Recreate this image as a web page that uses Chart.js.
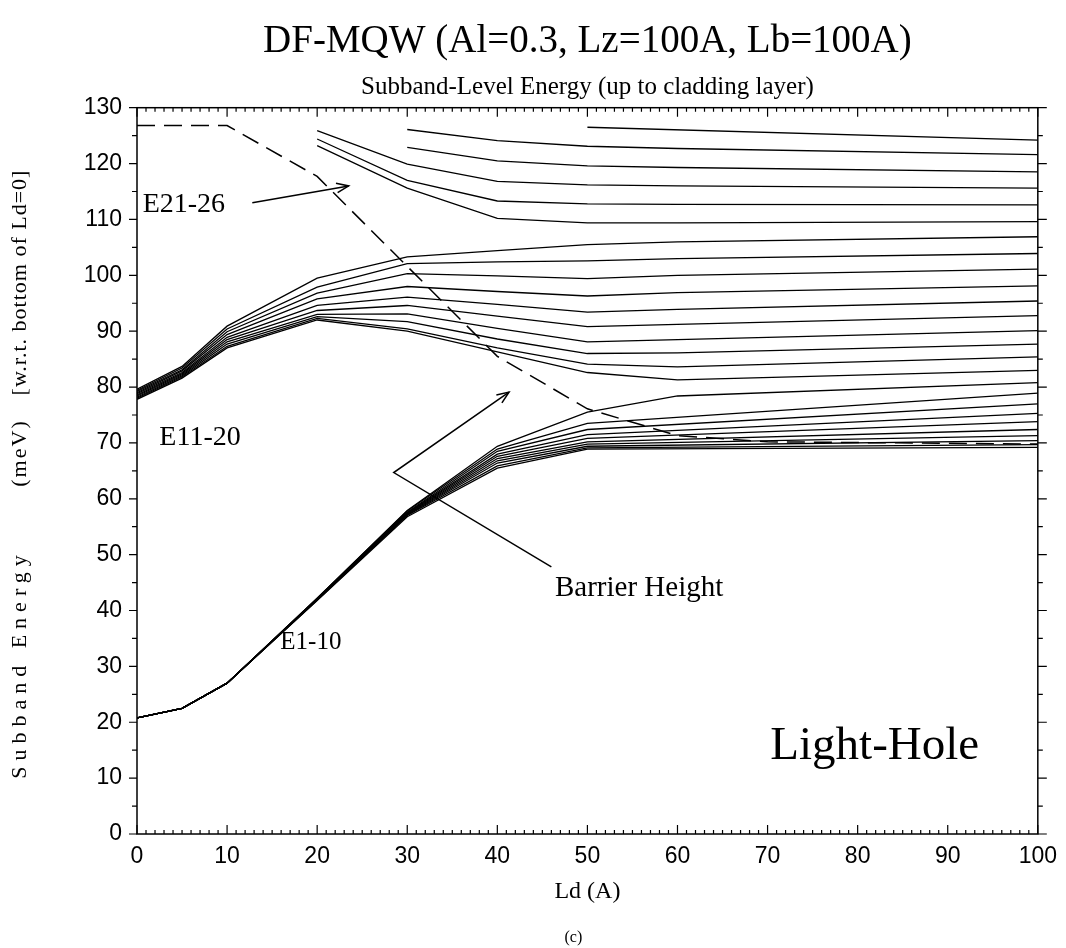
<!DOCTYPE html>
<html><head><meta charset="utf-8">
<script src="https://cdn.jsdelivr.net/npm/chart.js@4.4.1/dist/chart.umd.min.js"></script>
<style>html,body{margin:0;padding:0;background:#fff;}#wrap{position:relative;width:1066px;height:948px;}canvas{display:block;}</style>
</head><body><div id="wrap"><canvas id="c" width="1066" height="948"></canvas></div>
<script>
// ---- data (Ld in Angstrom, energy in meV) ----
const ldLow  = [0, 5, 10, 20, 30, 40, 50, 100];          // E1..E9
const ldE10  = [0, 5, 10, 20, 30, 40, 50, 60, 100];      // E10
const ldMid  = [0, 5, 10, 20, 30, 40, 50, 60, 100];      // E11..E20
const ldHiA  = [20, 30, 40, 50, 60, 100];                // E21..E23
const ldHiB  = [30, 40, 50, 60, 100];                    // E24..E25
const ldHiC  = [50, 100];                                // E26

const E1  = [20.8, 22.5, 27.0, 41.8, 56.8, 65.5, 68.9, 69.2];
const E2  = [20.8, 22.5, 27.0, 41.9, 57.0, 65.9, 69.1, 69.7];
const E3  = [20.8, 22.5, 27.0, 41.9, 57.1, 66.4, 69.4, 70.4];
const E4  = [20.8, 22.5, 27.0, 42.0, 57.2, 66.8, 69.8, 71.3];
const E5  = [20.8, 22.5, 27.0, 42.0, 57.3, 67.2, 70.2, 72.4];
const E6  = [20.8, 22.5, 27.0, 42.0, 57.4, 67.6, 70.8, 73.8];
const E7  = [20.8, 22.5, 27.0, 42.1, 57.5, 68.0, 71.5, 75.3];
const E8  = [20.8, 22.5, 27.0, 42.1, 57.6, 68.5, 72.4, 77.0];
const E9  = [20.8, 22.5, 27.0, 42.2, 57.8, 68.9, 73.5, 78.9];
const E10 = [20.8, 22.5, 27.0, 42.2, 57.9, 69.4, 75.5, 78.4, 80.8];

const E11 = [77.8, 81.6, 87.0, 92.0, 90.0, 86.3, 82.6, 81.3, 83.0];
const E12 = [78.0, 81.8, 87.3, 92.3, 90.4, 87.0, 84.1, 83.6, 85.4];
const E13 = [78.2, 82.0, 87.7, 92.6, 91.7, 88.6, 86.0, 86.1, 87.7];
const E14 = [78.4, 82.2, 88.1, 93.0, 93.1, 90.5, 88.1, 88.5, 90.1];
const E15 = [78.6, 82.4, 88.5, 93.7, 94.6, 92.7, 90.8, 91.2, 92.8];
const E16 = [78.8, 82.6, 88.9, 94.6, 96.1, 94.8, 93.4, 93.9, 95.4];
const E17 = [79.0, 82.9, 89.4, 95.8, 98.0, 97.1, 96.3, 96.9, 98.1];
const E18 = [79.2, 83.1, 89.9, 96.8, 100.3, 99.9, 99.4, 100.0, 101.1];
const E19 = [79.4, 83.4, 90.4, 97.9, 102.1, 102.4, 102.6, 103.0, 103.9];
const E20 = [79.6, 83.7, 90.9, 99.5, 103.3, 104.4, 105.5, 106.0, 106.9];

const E21 = [123.2, 115.6, 110.2, 109.4, 109.4, 109.6];
const E22 = [124.4, 117.0, 113.3, 112.8, 112.7, 112.6];
const E23 = [125.9, 119.9, 116.8, 116.2, 116.0, 115.6];
const E24 = [122.9, 120.5, 119.6, 119.3, 118.5];
const E25 = [126.1, 124.1, 123.1, 122.7, 121.6];
const E26 = [126.5, 124.2];

const barrierLd = [0, 10, 20, 40, 50, 60, 70, 100];
const barrierE  = [126.8, 126.8, 117.7, 85.5, 76.1, 71.3, 70.2, 69.8];

const xTickValues = [0, 10, 20, 30, 40, 50, 60, 70, 80, 90, 100];
const yTickValues = [0, 10, 20, 30, 40, 50, 60, 70, 80, 90, 100, 110, 120, 130];

// ---- build datasets ----
const levels = [
  [ldLow, E1], [ldLow, E2], [ldLow, E3], [ldLow, E4], [ldLow, E5],
  [ldLow, E6], [ldLow, E7], [ldLow, E8], [ldLow, E9], [ldE10, E10],
  [ldMid, E11], [ldMid, E12], [ldMid, E13], [ldMid, E14], [ldMid, E15],
  [ldMid, E16], [ldMid, E17], [ldMid, E18], [ldMid, E19], [ldMid, E20],
  [ldHiA, E21], [ldHiA, E22], [ldHiA, E23], [ldHiB, E24], [ldHiB, E25], [ldHiC, E26]
];
const toPts = (xs, ys) => xs.map((x, i) => ({x: x, y: ys[i]}));
const datasets = levels.map((l, i) => ({
  label: 'E' + (i + 1),
  data: toPts(l[0], l[1]),
  borderColor: '#000', borderWidth: 1.3, pointRadius: 0, tension: 0, fill: false
}));
datasets.push({
  label: 'Barrier Height', data: toPts(barrierLd, barrierE),
  borderColor: '#000', borderWidth: 1.5, borderDash: [18, 9], pointRadius: 0, tension: 0, fill: false
});

const SERIF = "'Liberation Serif', 'Times New Roman', serif";
const SANS = "'Liberation Sans', Arial, sans-serif";

// ---- annotation layout (data coordinates) ----
const notes = [
  {text: 'E21-26', x: 5.2, y: 112.6, size: 28, align: 'center'},
  {text: 'E11-20', x: 7.0, y: 71.0, size: 28, align: 'center'},
  {text: 'E1-10', x: 19.3, y: 34.2, size: 25, align: 'center'},
  {text: 'Barrier Height', x: 46.4, y: 44.0, size: 29, align: 'left'},
  {text: 'Light-Hole', x: 81.9, y: 15.6, size: 47, align: 'center'}
];
const arrows = [
  [[12.8, 113.0], [23.5, 116.0]],
  [[46.0, 47.8], [28.5, 64.7], [41.3, 79.1]]
];
const yTitleParts = [
  {text: 'Subband Energy', at: 667, spacing: 6},
  {text: '(meV)', at: 454, spacing: 2},
  {text: '[w.r.t. bottom of Ld=0]', at: 283, spacing: 1}
];

const frameTicks = {
  id: 'frameTicks',
  afterDraw(chart) {
    const {ctx, chartArea: a, scales: {x, y}} = chart;
    ctx.save();
    ctx.strokeStyle = '#000';
    ctx.lineWidth = 1.5;
    ctx.strokeRect(a.left, a.top, a.right - a.left, a.bottom - a.top);
    ctx.lineWidth = 1.2;
    ctx.beginPath();
    for (let v = 0; v <= 100; v++) {
      const px = x.getPixelForValue(v);
      const len = v % 10 === 0 ? 9 : 4;
      ctx.moveTo(px, a.bottom); ctx.lineTo(px, a.bottom - len);
      ctx.moveTo(px, a.top); ctx.lineTo(px, a.top + len);
    }
    for (let v = 0; v <= 130; v += 5) {
      const py = y.getPixelForValue(v);
      const major = v % 10 === 0;
      ctx.moveTo(a.left, py); ctx.lineTo(a.left - (major ? 8 : 5), py);
      ctx.moveTo(a.right, py); ctx.lineTo(a.right + (major ? 9 : 5), py);
    }
    ctx.stroke();
    ctx.restore();

    // y-axis title (rotated, letter-spaced pieces)
    yTitleParts.forEach(p => {
      ctx.save();
      ctx.fillStyle = '#000';
      ctx.font = '22px ' + SERIF;
      ctx.textAlign = 'center';
      ctx.textBaseline = 'middle';
      ctx.translate(20, p.at);
      ctx.rotate(-Math.PI / 2);
      ctx.letterSpacing = p.spacing + 'px';
      ctx.fillText(p.text, p.spacing / 2, 0);
      ctx.restore();
    });

    ctx.save();
    ctx.fillStyle = '#000';
    ctx.font = '16px ' + SERIF;
    ctx.textAlign = 'center';
    ctx.textBaseline = 'middle';
    ctx.fillText('(c)', (a.left + a.right) / 2 - 14, 938);
    ctx.restore();
  }
};

const notesPlugin = {
  id: 'notes',
  afterDatasetsDraw(chart) {
    const {ctx, scales: {x, y}} = chart;
    ctx.save();
    ctx.fillStyle = '#000';
    ctx.textBaseline = 'middle';
    notes.forEach(n => {
      ctx.font = n.size + 'px ' + SERIF;
      ctx.textAlign = n.align;
      ctx.fillText(n.text, x.getPixelForValue(n.x), y.getPixelForValue(n.y));
    });
    ctx.strokeStyle = '#000';
    ctx.lineWidth = 1.5;
    arrows.forEach(pts => {
      const p = pts.map(q => [x.getPixelForValue(q[0]), y.getPixelForValue(q[1])]);
      ctx.beginPath();
      ctx.moveTo(p[0][0], p[0][1]);
      for (let i = 1; i < p.length; i++) ctx.lineTo(p[i][0], p[i][1]);
      ctx.stroke();
      const [x1, y1] = p[p.length - 2], [x2, y2] = p[p.length - 1];
      const ang = Math.atan2(y2 - y1, x2 - x1), L = 13, w = 0.38;
      ctx.beginPath();
      ctx.moveTo(x2 - L * Math.cos(ang - w), y2 - L * Math.sin(ang - w));
      ctx.lineTo(x2, y2);
      ctx.lineTo(x2 - L * Math.cos(ang + w), y2 - L * Math.sin(ang + w));
      ctx.stroke();
    });
    ctx.restore();
  }
};

new Chart(document.getElementById('c'), {
  type: 'line',
  data: {datasets: datasets},
  options: {
    responsive: false,
    animation: false,
    events: [],
    layout: {padding: {left: 0, right: 24, top: 0, bottom: 38}},
    plugins: {
      legend: {display: false},
      tooltip: {enabled: false},
      title: {display: true, fullSize: false, text: 'DF-MQW (Al=0.3, Lz=100A, Lb=100A)', color: '#000',
        font: {family: SERIF, size: 39, weight: 'normal'}, padding: {top: 18.6, bottom: 0}},
      subtitle: {display: true, fullSize: false, text: 'Subband-Level Energy (up to cladding layer)', color: '#000',
        font: {family: SERIF, size: 25, weight: 'normal'}, padding: {top: 7.3, bottom: 5}}
    },
    scales: {
      x: {
        type: 'linear', min: xTickValues[0], max: xTickValues[xTickValues.length - 1],
        afterBuildTicks: s => { s.ticks = xTickValues.map(v => ({value: v})); },
        ticks: {color: '#000', font: {family: SANS, size: 23}, padding: 9, maxRotation: 0, autoSkip: false},
        grid: {display: false, drawTicks: false}, border: {display: false},
        title: {display: true, text: 'Ld (A)', color: '#000', font: {family: SERIF, size: 24}, padding: {top: 0, bottom: 3.6}},
        afterFit: s => { s.height = 76; }
      },
      y: {
        type: 'linear', min: yTickValues[0], max: yTickValues[yTickValues.length - 1],
        afterBuildTicks: s => { s.ticks = yTickValues.map(v => ({value: v})); },
        ticks: {color: '#000', font: {family: SANS, size: 23}, padding: 15, autoSkip: false},
        grid: {display: false, drawTicks: false}, border: {display: false},
        afterFit: s => { s.width = 137; }
      }
    }
  },
  plugins: [frameTicks, notesPlugin]
});
</script></body></html>
